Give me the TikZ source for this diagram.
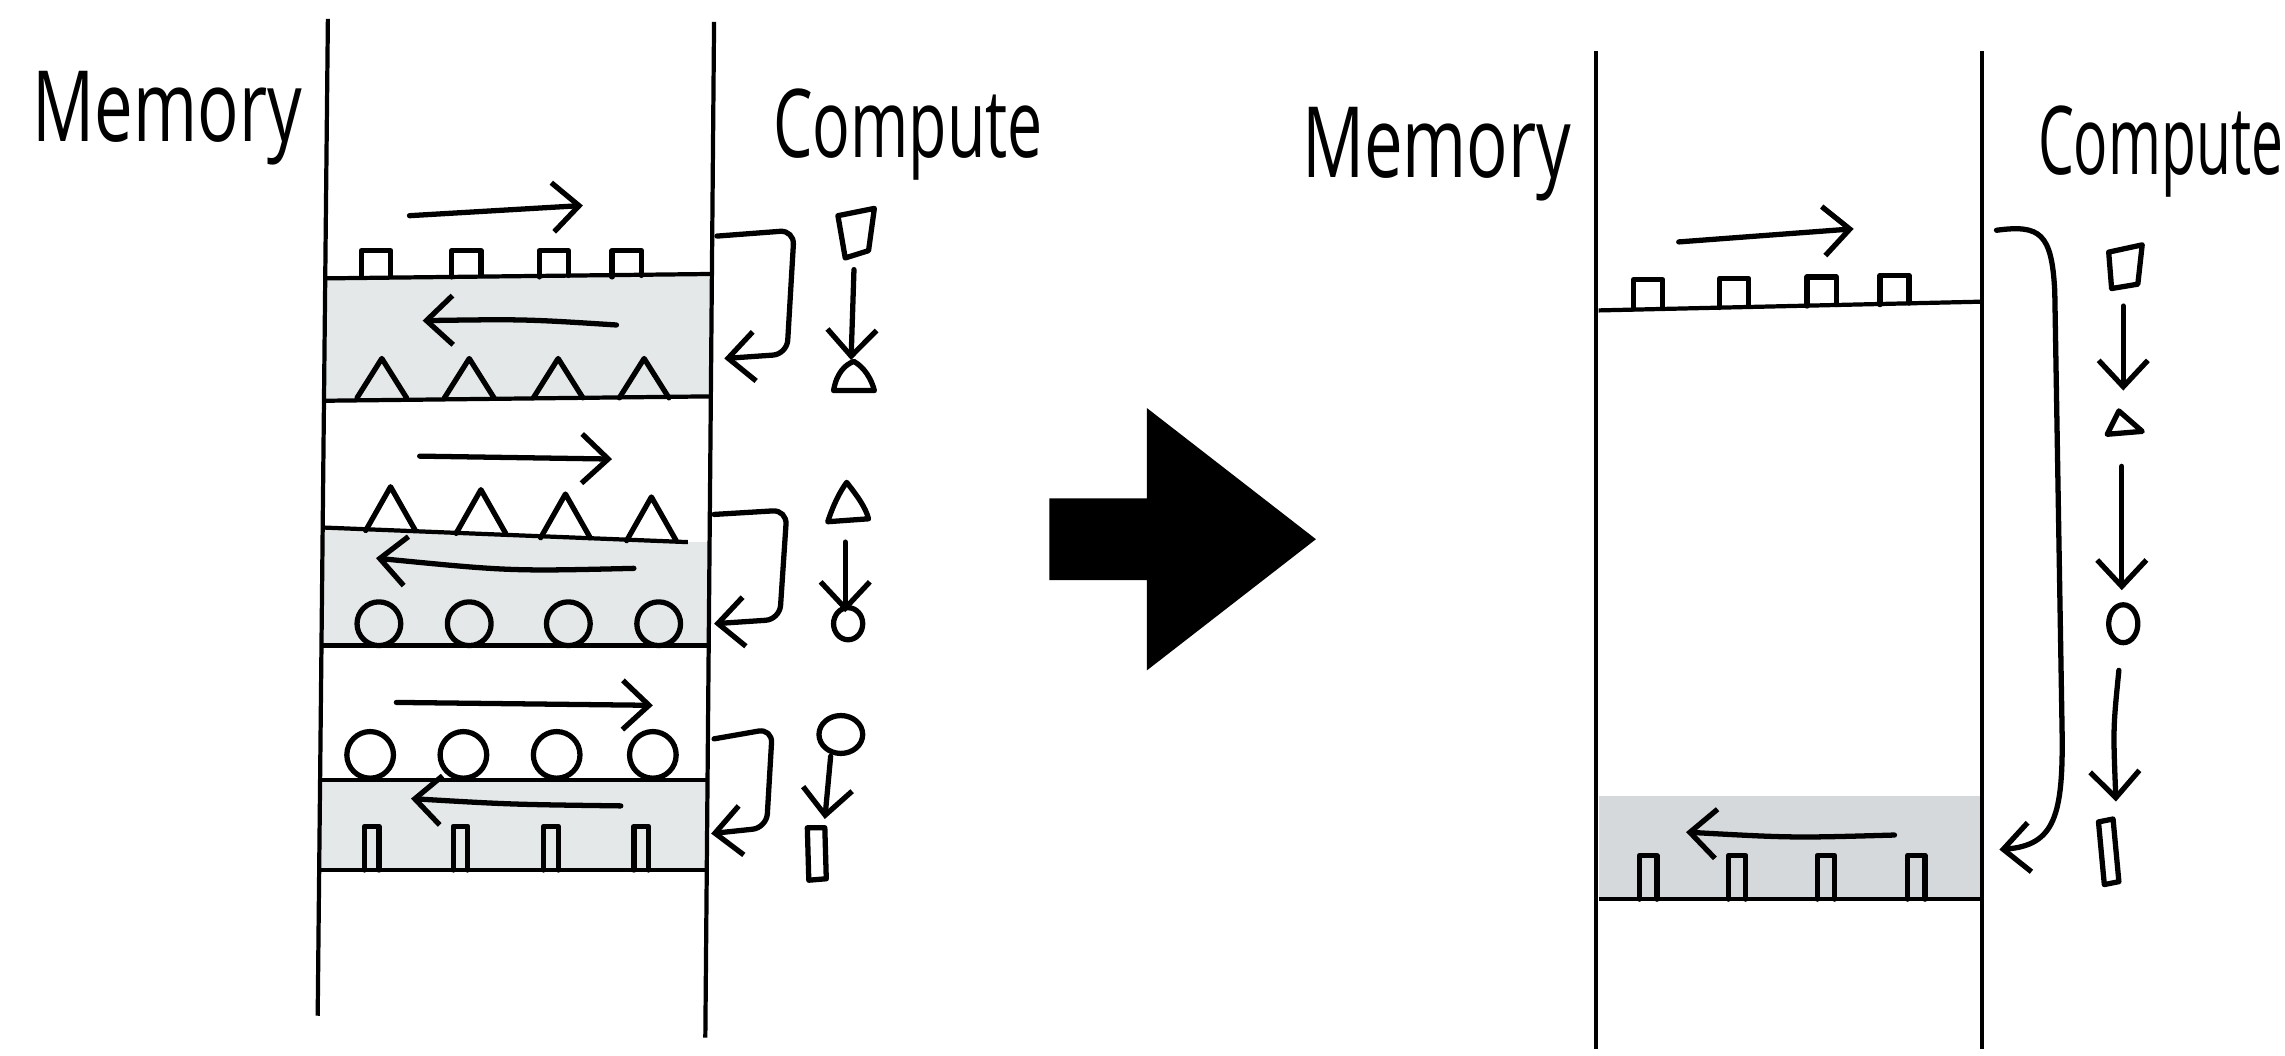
\documentclass[tikz,border=0pt]{standalone}
\usepackage{fontspec}
\setmainfont{Open Sans}
\usetikzlibrary{arrows, arrows.meta, positioning, calc}
\definecolor{bandgray}{HTML}{E4E8E9}
\definecolor{banddark}{HTML}{D6D9DC}
\tikzset{
  hand/.style={line width=1.5pt, line cap=round, line join=round},
  wall/.style={line width=1.2pt},
  label/.style={inner sep=0pt, anchor=base west},
}

\begin{document}
\begin{tikzpicture}[x=0.014573cm, y=-0.014573cm, >={Straight Barb[length=7.5pt,width=14pt]}]
      \useasboundingbox (0,0) rectangle (1568,724);

      % left picture
      \fill[bandgray] (224,190) -- (488,188) -- (487,273) -- (222,275) -- cycle;
      \fill[bandgray] (222,362) -- (472,372) -- (486,372) -- (486,443) -- (220,443) -- cycle;
      \fill[bandgray] (220,535) -- (485,535) -- (485,597) -- (219,597) -- cycle;

      \draw[wall] (225,13) -- (218,697);
      \draw[wall] (490,15) -- (484,712);
      \draw[wall] (224,191) -- (488,188);
      \draw[wall] (222,275) -- (487,272);
      \draw[wall] (222,362) -- (472,372);
      \draw[wall] (220,443) -- (486,443);
      \draw[wall] (220,535) -- (486,535);
      \draw[wall] (219,597) -- (485,597);

      \node[label, font=\fontsize{28}{28}\selectfont] (mem1) at (22,97) {\scalebox{0.7}[1]{Memory}};
      \node[label, font=\fontsize{27}{27}\selectfont] (cmp1) at (530,108) {\scalebox{0.66}[1]{Compute}};

      \foreach \x in {258,320,380,430}
        \draw[hand] (\x-10,190) -- (\x-10,172) -- (\x+10,172) -- (\x+10,189);
      \foreach \x in {262,322,383,442}
        \draw[hand] (\x-17,273) -- (\x,246) -- (\x+17,273);
      \foreach \x/\b in {268/364,330/366,388/369,447/371}
        \draw[hand] (\x-17,\b) -- (\x,\b-30) -- (\x+17,\b);
      \foreach \x in {260,322,390,452}
        \draw[hand] (\x,428) circle[x radius=15, y radius=15];
      \foreach \x in {254,318,382,448}
        \draw[hand] (\x,518) circle[x radius=16, y radius=16];
      \foreach \x in {255,316,378,440}
        \draw[hand] (\x-5,597) -- (\x-5,567) -- (\x+5,567) -- (\x+5,597);

      \draw[hand, ->] (281,148) -- (400,141);
      \draw[hand, ->] (423,223) .. controls (360,219) .. (290,220);
      \draw[hand, ->] (288,313) -- (420,315);
      \draw[hand, ->] (435,390) .. controls (350,392) .. (258,383);
      \draw[hand, ->] (272,482) -- (448,484);
      \draw[hand, ->] (426,553) .. controls (350,552) .. (282,548);

      \draw[hand, ->, rounded corners=4pt] (492,162) -- (545,158) -- (540,243) -- (497,246);
      \draw[hand, ->, rounded corners=4pt] (490,353) -- (540,350) -- (535,425) -- (490,428);
      \draw[hand, ->, rounded corners=4pt] (490,507) -- (530,500) -- (526,568) -- (488,572);

      \draw[hand] (575,148) -- (600,143) -- (596,172) -- (580,177) -- cycle;
      \draw[hand, ->] (586,185) -- (584,247);
      \draw[hand] (572,268) .. controls (574,256) and (580,250) .. (586,248) .. controls (593,252) and (598,260) .. (600,268) -- cycle;
      \draw[hand] (568,358) .. controls (572,346) and (576,338) .. (581,331) .. controls (588,340) and (594,348) .. (596,356) -- cycle;
      \draw[hand, ->] (580,372) -- (580,420);
      \draw[hand] (582,428) circle[x radius=10, y radius=11];
      \draw[hand] (577,504) circle[x radius=15, y radius=13];
      \draw[hand, ->] (570,519) -- (566,562);
      \draw[hand] (554,568) -- (566,568) -- (567,603) -- (555,604) -- cycle;

      % the big arrow
      \fill[black] (720,342) -- (787,342) -- (787,280) -- (903,370) -- (787,460) -- (787,398) -- (720,398) -- cycle;

      % right picture
      \fill[banddark] (1097,546) rectangle (1360,617);

      \draw[wall] (1095,35) -- (1095,720);
      \draw[wall] (1360,35) -- (1360,720);
      \draw[wall] (1097,213) -- (1360,207);
      \draw[wall] (1097,617) -- (1360,617);

      \node[label, font=\fontsize{28}{28}\selectfont] (mem2) at (893,122) {\scalebox{0.7}[1]{Memory}};
      \node[label, font=\fontsize{27}{27}\selectfont] (cmp2) at (1398,120) {\scalebox{0.6}[1]{Compute}};

      \foreach \x/\b in {1131/212,1190/211,1250/210,1300/209}
        \draw[hand] (\x-10,\b) -- (\x-10,\b-20) -- (\x+10,\b-20) -- (\x+10,\b-1);
      \foreach \x in {1131,1192,1253,1315}
        \draw[hand] (\x-6,617) -- (\x-6,587) -- (\x+6,587) -- (\x+6,617);

      \draw[hand, ->] (1152,166) -- (1272,157);
      \draw[hand, ->] (1300,573) .. controls (1230,575) .. (1157,571);

      \draw[hand, ->] (1370,158) .. controls (1400,154) and (1408,160) .. (1410,200) -- (1415,500) .. controls (1416,560) and (1410,580) .. (1372,583);

      \draw[hand] (1447,173) -- (1470,168) -- (1467,195) -- (1449,198) -- cycle;
      \draw[hand, ->] (1457,210) -- (1457,268);
      \draw[hand] (1446,298) -- (1454,282) -- (1470,296) -- cycle;
      \draw[hand, ->] (1456,320) -- (1456,405);
      \draw[hand] (1457,428) circle[x radius=10, y radius=13];
      \draw[hand, ->] (1454,460) .. controls (1450,500) .. (1452,550);
      \draw[hand] (1440,564) -- (1450,562) -- (1454,605) -- (1444,607) -- cycle;

    \end{tikzpicture}
\end{document}
